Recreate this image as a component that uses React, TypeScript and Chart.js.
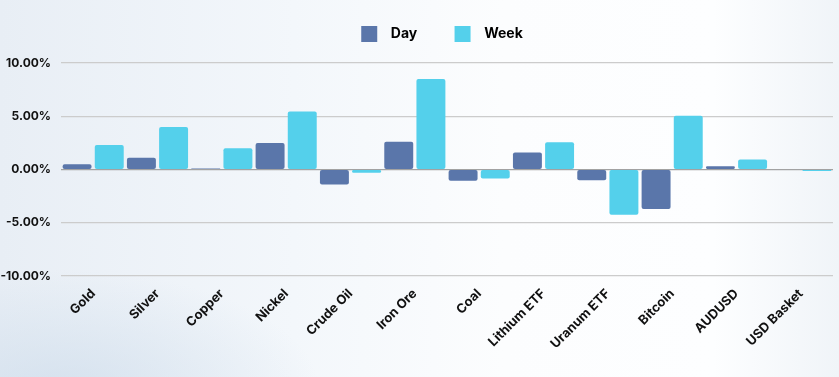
import React, { useEffect, useRef } from "react";
import { Chart, registerables } from "chart.js";

Chart.register(...registerables);

const categories = [
  "Gold", "Silver", "Copper", "Nickel", "Crude Oil", "Iron Ore",
  "Coal", "Lithium ETF", "Uranum ETF", "Bitcoin", "AUDUSD", "USD Basket",
];
const dayValues = [0.5, 1.1, 0.1, 2.5, -1.4, 2.6, -1.05, 1.6, -1.0, -3.7, 0.3, 0.0];
const weekValues = [2.3, 4.0, 2.0, 5.45, -0.3, 8.5, -0.85, 2.55, -4.25, 5.05, 0.95, -0.15];
const yTicks = [-10, -5, 0, 5, 10];

const DAY_COLOR = "#5a76aa";
const WEEK_COLOR = "#54d0eb";
const FONT = "Inter, 'Noto Sans', sans-serif";

const legendSpacer = {
  id: "legendSpacer",
  beforeInit(chart: any) {
    const legend = chart.legend;
    if (!legend) return;
    const orig = legend.fit;
    legend.fit = function () {
      orig.call(this);
      this.height += 11;
    };
  },
};

export default function App() {
  const ref = useRef<HTMLCanvasElement | null>(null);

  useEffect(() => {
    if (!ref.current) return;
    const chart = new Chart(ref.current, {
      type: "bar",
      data: {
        labels: categories,
        datasets: [
          { label: "Day", data: dayValues, backgroundColor: DAY_COLOR, borderRadius: 2, borderSkipped: false },
          { label: "Week", data: weekValues, backgroundColor: WEEK_COLOR, borderRadius: 2, borderSkipped: false },
        ],
      },
      plugins: [legendSpacer],
      options: {
        animation: false,
        responsive: false,
        maintainAspectRatio: false,
        layout: { padding: { top: 2, right: 6, left: 0, bottom: 0 } },
        datasets: { bar: { categoryPercentage: 1.0, barPercentage: 0.9 } },
        plugins: {
          tooltip: { enabled: false },
          legend: {
            position: "top",
            fullSize: false,
            labels: {
              boxWidth: 16,
              boxHeight: 16,
              padding: 24,
              color: "#111",
              font: { family: FONT, size: 14, weight: "bold" },
              generateLabels: (c: any) =>
                c.data.datasets.map((ds: any, i: number, arr: any[]) => ({
                  text: "  " + ds.label + (i < arr.length - 1 ? "    " : "   "),
                  fillStyle: ds.backgroundColor,
                  strokeStyle: ds.backgroundColor,
                  lineWidth: 0,
                  hidden: false,
                  datasetIndex: i,
                })),
            },
          },
        },
        scales: {
          x: {
            grid: { display: false },
            border: { display: false },
            afterFit: (axis: any) => {
              axis.height = 101;
            },
            ticks: {
              maxRotation: 45,
              minRotation: 45,
              color: "#111",
              padding: 2,
              font: { family: FONT, size: 13, weight: "bold" },
              autoSkip: false,
            },
          },
          y: {
            min: -10,
            max: 10,
            afterBuildTicks: (axis: any) => {
              axis.ticks = yTicks.map((v) => ({ value: v }));
            },
            afterFit: (axis: any) => {
              axis.width = 61;
            },
            border: { display: false },
            grid: {
              color: (ctx: any) => (ctx.tick && ctx.tick.value === 0 ? "#a2a2a2" : "#cccccc"),
              lineWidth: 1.2,
              drawTicks: true,
              tickColor: "rgba(0,0,0,0)",
              tickLength: 7,
            },
            ticks: {
              color: "#111",
              padding: 3,
              font: { family: FONT, size: 12, weight: "bold" },
              callback: (v: any) => Number(v).toFixed(2) + "%",
            },
          },
        },
      },
    });
    return () => chart.destroy();
  }, []);

  return (
    <div
      style={{
        position: "fixed",
        left: 0,
        top: 0,
        width: 839,
        height: 377,
        background:
          "radial-gradient(ellipse 260px 120px at 60px 390px, rgba(205,220,235,0.7), rgba(205,220,235,0) 100%), linear-gradient(90deg, #e8eef5 0%, #f3f7fb 35%, #fcfdfe 60%, #fdfeff 85%, #f0f4f8 100%)",
      }}
    >
      <canvas ref={ref} width={839} height={377} style={{ display: "block" }} />
    </div>
  );
}
